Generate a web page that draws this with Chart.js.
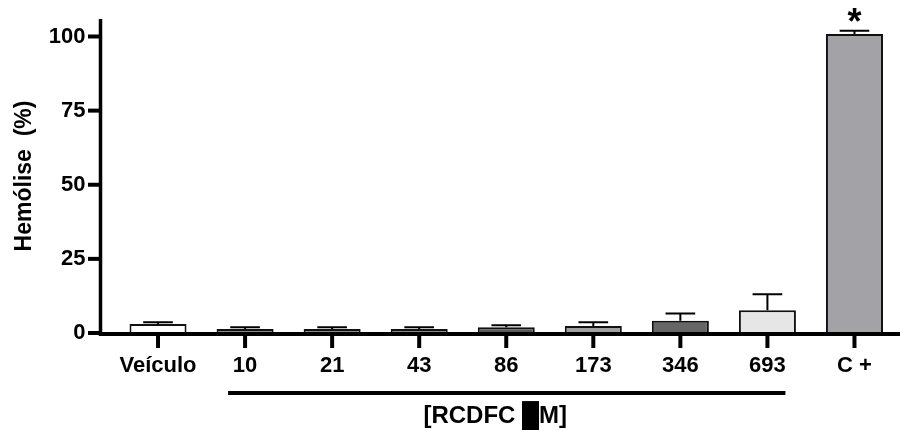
<!DOCTYPE html>
<html>
<head>
<meta charset="utf-8">
<script src="https://cdn.jsdelivr.net/npm/chart.js@4.4.1/dist/chart.umd.min.js"></script>
<style>
  html, body { margin: 0; padding: 0; background: #fff; }
</style>
</head>
<body>
<canvas id="hemolysisChart" width="903" height="430"></canvas>
<script>
// groups and measured hemolysis (mean ± SEM, %)
const groups = ['Veículo', '10', '21', '43', '86', '173', '346', '693', 'C +'];
const hemolysis = [3.0, 1.35, 1.35, 1.35, 1.9, 2.4, 4.1, 7.7, 100.8];
const sem = [0.6, 0.55, 0.55, 0.55, 0.7, 1.2, 2.5, 5.4, 1.1];
const yTicks = [0, 25, 50, 75, 100];
const significant = ['C +'];

const barFills = ['#ffffff', '#8a8a8a', '#8a8a8a', '#8a8a8a', '#5a5a5a', '#a0a0a0', '#666666', '#e6e6e6', '#a3a3a7'];

const FONT = '"Liberation Sans", Arial, sans-serif';

// axis lines, tick marks, error bars, asterisk and the concentration bracket
const graphPadPlugin = {
  id: 'graphPad',
  afterDatasetsDraw(chart) {
    const { ctx, chartArea, scales } = chart;
    const x = scales.x, y = scales.y;
    const meta = chart.getDatasetMeta(0);
    const zero = y.getPixelForValue(0);

    ctx.save();
    ctx.strokeStyle = '#000';
    ctx.lineCap = 'butt';

    // error bars (upper half only)
    ctx.lineWidth = 2;
    meta.data.forEach((bar, i) => {
      const top = y.getPixelForValue(hemolysis[i] + sem[i]);
      const half = bar.width * 0.26;
      ctx.beginPath();
      ctx.moveTo(bar.x, bar.y);
      ctx.lineTo(bar.x, top);
      ctx.moveTo(bar.x - half, top);
      ctx.lineTo(bar.x + half, top);
      ctx.stroke();
    });

    // y axis line + ticks
    const axisX = 100.5;
    ctx.lineWidth = 3.5;
    ctx.beginPath();
    ctx.moveTo(axisX, chartArea.top);
    ctx.lineTo(axisX, zero + 3);
    ctx.stroke();
    ctx.lineWidth = 4;
    yTicks.forEach(v => {
      const py = y.getPixelForValue(v);
      ctx.beginPath();
      ctx.moveTo(88, py);
      ctx.lineTo(axisX, py);
      ctx.stroke();
    });

    // x axis line + ticks
    ctx.beginPath();
    ctx.moveTo(axisX - 1.5, zero + 1);
    ctx.lineTo(900, zero + 1);
    ctx.stroke();
    groups.forEach((g, i) => {
      const px = x.getPixelForValue(i);
      ctx.beginPath();
      ctx.moveTo(px, zero + 1);
      ctx.lineTo(px, zero + 15);
      ctx.stroke();
    });

    // significance marker
    ctx.fillStyle = '#000';
    ctx.font = 'bold 36px ' + FONT;
    ctx.textAlign = 'center';
    ctx.textBaseline = 'alphabetic';
    significant.forEach(g => {
      const i = groups.indexOf(g);
      const px = x.getPixelForValue(i);
      const top = y.getPixelForValue(hemolysis[i] + sem[i]);
      ctx.fillText('*', px, top + 3);
    });

    // bracket under the concentration groups
    const first = x.getPixelForValue(1), last = x.getPixelForValue(7);
    ctx.lineWidth = 4;
    ctx.beginPath();
    ctx.moveTo(first - 17, 393);
    ctx.lineTo(last + 18, 393);
    ctx.stroke();

    ctx.font = 'bold 24px ' + FONT;
    ctx.fillText('[RCDFC \u2588M]', (first + last) / 2 - 11, 423);
    ctx.restore();
  }
};

new Chart(document.getElementById('hemolysisChart'), {
  type: 'bar',
  data: {
    labels: groups,
    datasets: [{
      data: hemolysis,
      backgroundColor: barFills,
      borderColor: '#111',
      borderWidth: 2,
      categoryPercentage: 1,
      barPercentage: 0.655
    }]
  },
  options: {
    responsive: false,
    animation: false,
    layout: { padding: { top: 19, right: 5 } },
    plugins: {
      legend: { display: false },
      tooltip: { enabled: false }
    },
    scales: {
      x: {
        grid: { display: false, drawTicks: false },
        border: { display: false },
        ticks: { color: '#000', font: { family: FONT, size: 22, weight: 'bold' }, padding: 20, maxRotation: 0 },
        afterFit(scale) { scale.height = 97; scale.paddingLeft = 0; scale.paddingRight = 0; }
      },
      y: {
        min: 0,
        max: 105.9,
        grid: { display: false, drawTicks: false },
        border: { display: false },
        afterBuildTicks(scale) { scale.ticks = yTicks.map(v => ({ value: v })); },
        ticks: { color: '#000', font: { family: FONT, size: 22, weight: 'bold' }, padding: 29 },
        title: {
          display: true,
          text: 'Hemólise  (%)',
          color: '#000',
          font: { family: FONT, size: 23, weight: 'bold' },
          padding: { top: 11, bottom: 0 }
        },
        afterFit(scale) { scale.width = 114.5; scale.paddingTop = 0; scale.paddingBottom = 0; }
      }
    }
  },
  plugins: [graphPadPlugin]
});
</script>
</body>
</html>
